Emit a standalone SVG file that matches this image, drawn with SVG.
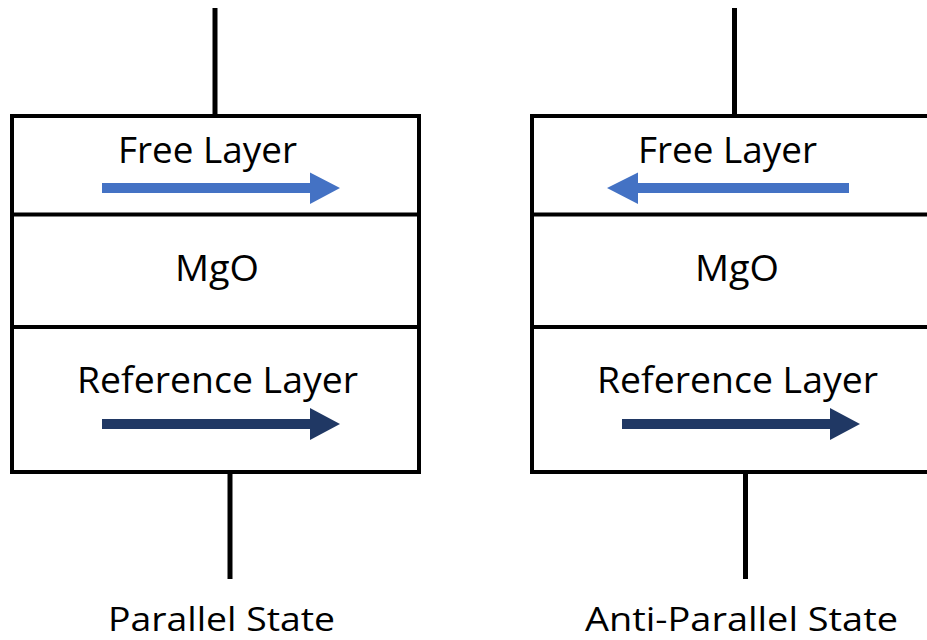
<svg xmlns="http://www.w3.org/2000/svg" width="927" height="640" viewBox="0 0 927 640">
<style>
.box{fill:#fff;stroke:#000;stroke-width:4}
.sep{stroke:#000;stroke-width:4}
.wire{stroke:#000;stroke-width:5}
.t{font-family:"Open Sans","Liberation Sans",sans-serif;font-size:36px;fill:#000}
.lbl{font-family:"Open Sans","Liberation Sans",sans-serif;font-size:32.5px;fill:#000}
.free{fill:#4472C4}
.ref{fill:#203864}
</style>
<rect width="927" height="640" fill="#fff"/>
<g id="connectors">
<line class="wire" x1="215" y1="8" x2="215" y2="116"/>
<line class="wire" x1="230" y1="472" x2="230" y2="579"/>
<line class="wire" x1="734.5" y1="8" x2="734.5" y2="116"/>
<line class="wire" x1="745.5" y1="472" x2="745.5" y2="579"/>
</g>
<g id="parallel-mtj">
<rect class="box" x="12" y="116" width="407" height="356"/>
<line class="sep" x1="12" y1="214.5" x2="419" y2="214.5"/>
<line class="sep" x1="12" y1="327" x2="419" y2="327"/>
<text class="t" x="118" y="163" textLength="179" lengthAdjust="spacingAndGlyphs">Free Layer</text>
<polygon class="free" points="102,183 310,183 310,172.5 340,188 310,204 310,193 102,193"/>
<text class="t" x="175" y="281" textLength="84" lengthAdjust="spacingAndGlyphs">MgO</text>
<text class="t" x="77" y="393" textLength="281" lengthAdjust="spacingAndGlyphs">Reference Layer</text>
<polygon class="ref" points="102,419 310,419 310,408 340,424 310,440 310,429 102,429"/>
</g>
<g id="antiparallel-mtj">
<rect class="box" x="532" y="116" width="407" height="356"/>
<line class="sep" x1="532" y1="214.5" x2="939" y2="214.5"/>
<line class="sep" x1="532" y1="327" x2="939" y2="327"/>
<text class="t" x="638" y="163" textLength="179" lengthAdjust="spacingAndGlyphs">Free Layer</text>
<polygon class="free" points="849,183 638,183 638,172.5 607,188 638,204 638,193 849,193"/>
<text class="t" x="695" y="281" textLength="84" lengthAdjust="spacingAndGlyphs">MgO</text>
<text class="t" x="597" y="393" textLength="281" lengthAdjust="spacingAndGlyphs">Reference Layer</text>
<polygon class="ref" points="622,419 830,419 830,408 860,424 830,440 830,429 622,429"/>
</g>
<g id="label-parallel">
<text class="lbl" x="108" y="631" textLength="227" lengthAdjust="spacingAndGlyphs">Parallel State</text>
</g>
<g id="label-antiparallel">
<text class="lbl" x="585" y="631" textLength="313" lengthAdjust="spacingAndGlyphs">Anti-Parallel State</text>
</g>
</svg>
